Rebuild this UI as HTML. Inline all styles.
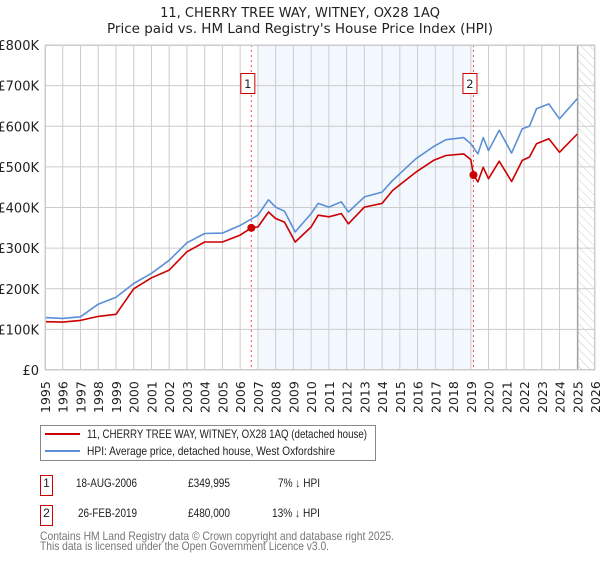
<!DOCTYPE html>
<html><head><meta charset="utf-8"><style>
body{margin:0;background:#fff;font-family:"DejaVu Sans","Liberation Sans",sans-serif;}
svg text{font-family:"DejaVu Sans","Liberation Sans",sans-serif;}
svg text.n{font-family:"Liberation Sans","DejaVu Sans",sans-serif;}
</style></head><body>
<svg id="chart" width="600" height="560" xmlns="http://www.w3.org/2000/svg">
<text x="300" y="17" text-anchor="middle" font-size="13" fill="#222">11, CHERRY TREE WAY, WITNEY, OX28 1AQ</text>
<text x="300" y="33" text-anchor="middle" font-size="13" fill="#222" textLength="386" lengthAdjust="spacingAndGlyphs">Price paid vs. HM Land Registry's House Price Index (HPI)</text>
<g id="plot"></g>
<g>
<rect x="40.5" y="425.5" width="335" height="35" fill="#fff" stroke="#888"/>
<line x1="45" y1="434" x2="80" y2="434" stroke="#cc0000" stroke-width="2"/>
<text class="n" x="87" y="438" font-size="12" fill="#222" textLength="280" lengthAdjust="spacingAndGlyphs">11, CHERRY TREE WAY, WITNEY, OX28 1AQ (detached house)</text>
<line x1="45" y1="451" x2="80" y2="451" stroke="#5b8fd6" stroke-width="2"/>
<text class="n" x="87" y="455" font-size="12" fill="#222" textLength="248" lengthAdjust="spacingAndGlyphs">HPI: Average price, detached house, West Oxfordshire</text>
</g>
<g font-size="12" fill="#222">
<rect x="40.5" y="475.5" width="12" height="20" fill="#fff" stroke="#cc0000"/>
<text class="n" x="46.5" y="487" text-anchor="middle">1</text>
<text class="n" x="76" y="487" textLength="61" lengthAdjust="spacingAndGlyphs">18-AUG-2006</text>
<text class="n" x="188" y="487" textLength="42" lengthAdjust="spacingAndGlyphs">£349,995</text>
<text class="n" x="278" y="487" textLength="42" lengthAdjust="spacingAndGlyphs">7% ↓ HPI</text>
<rect x="40.5" y="505.5" width="12" height="20" fill="#fff" stroke="#cc0000"/>
<text class="n" x="46.5" y="517" text-anchor="middle">2</text>
<text class="n" x="78" y="517" textLength="59" lengthAdjust="spacingAndGlyphs">26-FEB-2019</text>
<text class="n" x="188" y="517" textLength="42" lengthAdjust="spacingAndGlyphs">£480,000</text>
<text class="n" x="272" y="517" textLength="48" lengthAdjust="spacingAndGlyphs">13% ↓ HPI</text>
</g>
<text class="n" x="40" y="540" font-size="12" fill="#777" textLength="354" lengthAdjust="spacingAndGlyphs">Contains HM Land Registry data © Crown copyright and database right 2025.</text>
<text class="n" x="40" y="550" font-size="12" fill="#777" textLength="289" lengthAdjust="spacingAndGlyphs">This data is licensed under the Open Government Licence v3.0.</text>
</svg>
<script>
const hpiYears=[1995,1996,1997,1998,1999,2000,2001,2002,2003,2004,2005,2006,2007,2007.6,2008,2008.5,2009.1,2010,2010.4,2011,2011.7,2012.1,2013,2014,2014.6,2015.9,2016.9,2017.6,2018.6,2019,2019.4,2019.7,2020,2020.6,2021.3,2021.9,2022.3,2022.7,2023.4,2024,2025];
const hpiValues=[129,127,131,162,179,213,238,270,313,336,337,356,381,419,401,391,340,385,410,401,414,389,426,438,467,520,550,567,572,557,532,572,540,590,534,594,600,643,655,618,668];
const priceYears=[1995,1996,1997,1998,1999,2000,2001,2002,2003,2004,2005,2006,2006.63,2007,2007.6,2008,2008.5,2009.1,2010,2010.4,2011,2011.7,2012.1,2013,2014,2014.6,2015.9,2016.9,2017.6,2018.6,2019,2019.15,2019.4,2019.7,2020,2020.6,2021.3,2021.9,2022.3,2022.7,2023.4,2024,2025];
const priceValues=[119,118,122,132,137,200,227,246,291,315,315,332,350,352,389,373,364,315,352,381,377,385,360,401,410,442,487,516,528,532,518,480,463,499,471,514,464,516,524,557,569,536,581];
const saleYears=[2006.63,2019.15];
const saleValues=[349.995,480];
const saleLabels=["1","2"];
const yTicks=[0,100,200,300,400,500,600,700,800];
const yTickLabels=["£0","£100K","£200K","£300K","£400K","£500K","£600K","£700K","£800K"];
const xTicks=[1995,1996,1997,1998,1999,2000,2001,2002,2003,2004,2005,2006,2007,2008,2009,2010,2011,2012,2013,2014,2015,2016,2017,2018,2019,2020,2021,2022,2023,2024,2025,2026];

const NS="http://www.w3.org/2000/svg";
const X0=45,X1=595,Y0=370,Y1=45;
const xs=y=>X0+(y-1995)/(2026-1995)*(X1-X0);
const ys=v=>Y0-v/800*(Y0-Y1);
const g=document.getElementById('plot');
function mk(t,a){const e=document.createElementNS(NS,t);for(const k in a)e.setAttribute(k,a[k]);g.appendChild(e);return e;}
let e=mk('rect',{x:xs(2007),y:Y1,width:xs(saleYears[1])-xs(2007),height:Y0-Y1,fill:'#eef3fd',opacity:0.7});


const defs=document.createElementNS(NS,'defs');defs.innerHTML='<pattern id="hatch" width="6" height="6" patternUnits="userSpaceOnUse" patternTransform="rotate(-45)"><line x1="0" y1="0" x2="0" y2="6" stroke="#ccc" stroke-width="1"/></pattern>';g.appendChild(defs);
e=mk('rect',{x:xs(2025.03),y:Y1,width:X1-xs(2025.03),height:Y0-Y1,fill:'url(#hatch)'});


yTicks.forEach((v,i)=>{
 let l=mk('line',{x1:X0,x2:X1,y1:ys(v),y2:ys(v),stroke:'#ccc','stroke-width':1});
 
 
 let t=mk('text',{x:39,y:ys(v)+5,'text-anchor':'end','font-size':13,fill:'#222'});
 t.textContent=yTickLabels[i];
 
 
});
xTicks.forEach(y=>{
 let l=mk('line',{x1:xs(y),x2:xs(y),y1:Y1,y2:Y0,stroke:'#ccc','stroke-width':1});
 
 
 let t=mk('text',{x:0,y:0,transform:`translate(${xs(y)+5},413) rotate(-90)`,'font-size':12.5,fill:'#222'});
 t.textContent=y;
 
 
});
e=mk('line',{x1:xs(2025.03),x2:xs(2025.03),y1:Y1,y2:Y0,stroke:'#999','stroke-width':1.2});


saleYears.forEach((y,i)=>{
 let l=mk('line',{x1:xs(y),x2:xs(y),y1:Y1,y2:Y0,stroke:'#e55','stroke-width':1,'stroke-dasharray':'2,3'});
 
 
});
function path(xa,va,col,name){
 let d=xa.map((x,i)=>(i?'L':'M')+xs(x).toFixed(1)+','+ys(va[i]).toFixed(1)).join('');
 let p=mk('path',{d:d,fill:'none',stroke:col,'stroke-width':1.6,'stroke-linejoin':'round'});
 
 
}
path(hpiYears,hpiValues,'#5b8fd6','hpi-line');
path(priceYears,priceValues,'#cc0000','price-line');
saleYears.forEach((y,i)=>{
 let c=mk('circle',{cx:xs(y),cy:ys(saleValues[i]),r:4,fill:'#cc0000'});
 
 
 let bx=xs(y)-10;
 let r=mk('rect',{x:bx-0.5,y:73.5,width:14,height:20,fill:'#fff',stroke:'#cc0000'});
 
 
 let t=mk('text',{x:bx+6.5,y:88,'text-anchor':'middle','font-size':11.5,fill:'#222'});
 t.textContent=saleLabels[i];
 
 
});
e=mk('rect',{x:X0+0.5,y:Y1+0.5,width:X1-X0-1,height:Y0-Y1-1,fill:'none',stroke:'#ccc'});


</script>
</body></html>
